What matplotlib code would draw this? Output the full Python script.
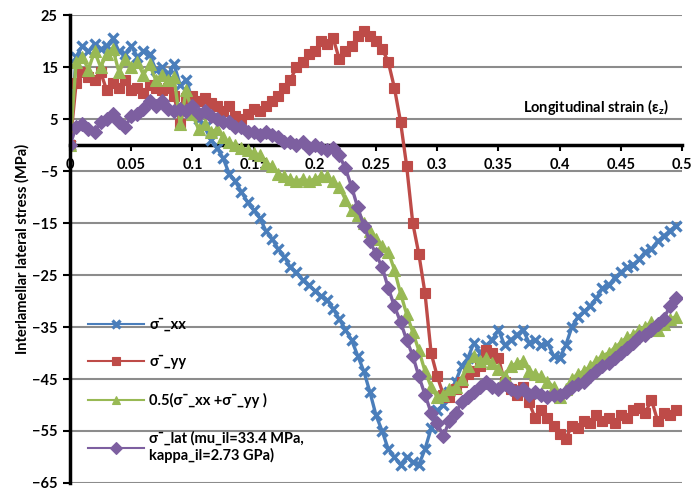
import numpy as np
import matplotlib
matplotlib.use("Agg")
import matplotlib.pyplot as plt

plt.rcParams['font.family'] = ['Lato', 'DejaVu Sans']
plt.rcParams['mathtext.default'] = 'regular'

# strain values (x)
strain = [round(i * 0.005, 3) for i in range(100)]

sigma_xx = [0, 17, 19, 18, 19.5, 18.5, 19, 20.5, 18, 17.5,
            19, 17, 18, 17.5, 14.5, 15, 13.5, 15.5, 11.5, 12.5,
            8.5, 5, 3.5, 1, -0.5, -2.5, -5.5, -7, -9, -11,
            -12.5, -14, -16.5, -18, -20, -21.5, -23.5, -24.5, -26, -27,
            -28, -29, -29.8, -31.5, -33.5, -35.5, -37.5, -40.5, -43.5, -47.5,
            -52, -55, -58.5, -60, -61.5, -60, -61, -61.5, -58.5, -54.5,
            -51, -50, -47.5, -45.5, -42.5, -41, -38, -40, -38.5, -37.5,
            -35.5, -38.5, -37.5, -36.5, -35.5, -38, -37.5, -38.5, -38, -40.5,
            -41, -38.5, -35, -33, -32, -31, -29.5, -27.5, -27, -25.5,
            -24.5, -23.5, -23, -22, -20.5, -20, -18.5, -17.5, -16.5, -15.5]

sigma_yy = [0, 12, 14, 13, 12.5, 14, 10.5, 12, 11, 12.5,
            10.5, 11, 10, 11.5, 11, 10.5, 11, 9.5, 4, 9,
            9.5, 8.5, 9, 8, 7.5, 6.5, 7.5, 5.5, 5, 6,
            7, 6.5, 7.5, 8.5, 9.5, 11, 12.5, 15, 16, 17.5,
            18, 20, 19.5, 20.5, 16.5, 18, 19, 21, 22, 21,
            20, 18.5, 16, 11, 4.5, -4, -15, -21, -28.5, -40,
            -44.5, -48, -48.5, -47, -45.5, -44, -43.5, -42.5, -39.5, -40,
            -41, -45.5, -47, -48, -46.5, -49.5, -52.5, -51, -52.5, -54,
            -55.5, -56.5, -54, -54.5, -53, -53.5, -52, -53, -52.5, -53.5,
            -52, -52.5, -51, -50.5, -51.5, -49, -53, -51.5, -52, -51]

sigma_avg = [0, 16, 17, 14.5, 18, 15, 17.5, 18.5, 14, 16.5,
             15, 16, 13.5, 15.5, 12.5, 13.5, 12.5, 13, 4, 10.5,
             6, 3, 4, 2.5, 3, 1.5, 0.5, 0, -0.5, -1,
             -1.5, -2, -3.5, -4, -5.5, -6, -6.5, -7, -6.5, -7,
             -6.5, -6, -6, -7, -8, -10.5, -12.5, -13.5, -15, -16.5,
             -18, -19.5, -20.5, -24, -28.5, -32.5, -36, -39.5, -43.5, -46.5,
             -48.5, -48, -47, -46.5, -45, -42.5, -40.5, -41.5, -41, -42,
             -43, -44.5, -42.5, -42, -41.5, -43.5, -44, -44.5, -45.5, -46.5,
             -48.5, -47, -45, -44, -43.5, -42.5, -41.5, -40.5, -40, -39,
             -38, -37, -36.5, -35.5, -35, -34, -35.5, -34.5, -33.5, -33]

sigma_lat = [0, 3.5, 4, 3, 2.5, 4.5, 5, 6, 4.5, 3.5,
             5.5, 6, 7, 8.5, 7.5, 8.5, 7, 6.5, 7, 6.5,
             7.5, 6, 6.5, 5.5, 5, 4.5, 4.5, 3.5, 3.5, 2.5,
             2.5, 2, 2.5, 2, 1.5, 0.5, 0.5, 0, 0.5, -0.5,
             0, -0.5, -1, -0.5, -2, -4.5, -8, -12, -15.5, -18.5,
             -21, -23.5, -27.5, -31, -34, -37.5, -40.5, -44.5, -48, -51.5,
             -53.5, -56, -53, -51.5, -49.5, -48.5, -47.5, -46.5, -45.5, -46.5,
             -47, -46, -47, -47.5, -47, -48, -47.5, -48, -48.5, -48,
             -48, -47.5, -46.5, -46, -45.5, -44.5, -43.5, -42.5, -42, -41,
             -40, -39, -38, -37, -36.5, -35.5, -34.5, -33.5, -31, -29.5]

labels = ["σ¯_xx", "σ¯_yy", "0.5(σ¯_xx +σ¯_yy )",
          "σ¯_lat (mu_il=33.4 MPa,\nkappa_il=2.73 GPa)"]
colors = ["#4A7EBB", "#BE4B48", "#98B954", "#7D5FA0"]
markers = ["x", "s", "^", "D"]
msizes = [7, 7.5, 8.5, 7.5]

fig = plt.figure(figsize=(6.92, 4.90), dpi=100)
ax = fig.add_axes([0.1012, 0.0143, 0.8844, 0.955])

for ys, lab, c, m, ms in zip([sigma_xx, sigma_yy, sigma_avg, sigma_lat], labels, colors, markers, msizes):
    ax.plot(strain, ys, color=c, marker=m, markersize=ms, markeredgewidth=2.4 if m == 'x' else 0.8,
            markeredgecolor=c, markerfacecolor=c, linewidth=2.4, label=lab)

ax.set_xlim(0, 0.5)
ax.set_ylim(-65, 25)
ax.set_yticks(np.arange(-65, 26, 10))
ax.set_xticks(np.arange(0, 0.501, 0.05))
ax.set_xticklabels(["0", "0.05", "0.1", "0.15", "0.2", "0.25", "0.3", "0.35", "0.4", "0.45", "0.5"])
ax.grid(axis='y', color='#8C8C8C', linewidth=1.5)
ax.set_axisbelow(True)

ax.spines['top'].set_visible(False)
ax.spines['right'].set_visible(False)
ax.spines['bottom'].set_position(('data', 0))
ax.spines['bottom'].set_linewidth(2.5)
ax.spines['left'].set_linewidth(2.5)
ax.spines['bottom'].set_zorder(1.5)
ax.tick_params(axis='x', direction='out', length=4, width=1.5, pad=5, labelsize=10.5)
ax.tick_params(axis='y', direction='out', length=5, width=1.5, pad=4, labelsize=10.5)
for t in ax.get_xticklabels() + ax.get_yticklabels():
    t.set_fontweight('bold')

ax.set_ylabel("Interlamellar lateral stress (MPa)", fontsize=10.5, fontweight='bold', labelpad=2)
ax.text(0.489, 7.4, "Longitudinal strain (ε$_z$)", ha='right', va='center',
        fontsize=10.5, fontweight='bold')

leg = ax.legend(loc='upper left', bbox_to_anchor=(0.02, 0.365), frameon=False,
                prop={'weight': 'bold', 'size': 10.5}, labelspacing=1.6,
                handlelength=3.8, handletextpad=0.4, numpoints=1, borderaxespad=0,
                markerscale=0.75)
for h in leg.get_lines():
    h.set_linewidth(1.5)

fig.savefig("out.png", dpi=100)
